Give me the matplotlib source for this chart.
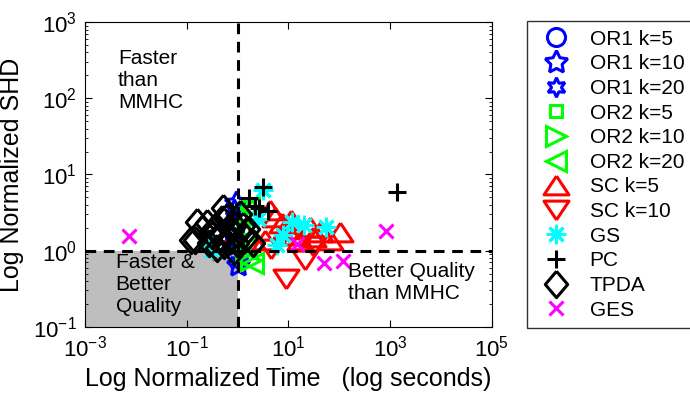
import numpy as np
import matplotlib
matplotlib.use("Agg")
import matplotlib.pyplot as plt
from matplotlib.ticker import NullLocator, LogFormatterMathtext

plt.rcParams['font.family'] = ['Liberation Sans', 'DejaVu Sans']
plt.rcParams['mathtext.fontset'] = 'custom'
plt.rcParams['mathtext.rm'] = 'Liberation Sans'

# data: normalized time, normalized SHD (both relative to MMHC)
or1_k5_t = [0.9, 0.7, 1.0]
or1_k5_s = [1.5, 2.0, 2.5]
or1_k10_t = [1.0, 0.95, 0.9]
or1_k10_s = [0.65, 4.2, 1.2]
or1_k20_t = [1.05, 0.85]
or1_k20_s = [0.7, 3.5]
or2_k5_t = [1.6, 1.3]
or2_k5_s = [3.8, 2.0]
or2_k10_t = [1.8, 1.5]
or2_k10_s = [0.75, 1.0]
or2_k20_t = [2.0, 1.7, 1.4]
or2_k20_s = [0.68, 3.6, 1.1]
sc_k5_t = [4.3, 7.4, 26, 102, 13.5, 17, 3.5, 42, 65, 9, 30, 5.5, 11]
sc_k5_s = [3.4, 2.3, 2.05, 1.77, 1.6, 1.38, 1.38, 1.77, 1.38, 1.9, 1.5, 2.8, 2.5]
sc_k10_t = [8.9, 21, 4.5, 0.35, 30]
sc_k10_s = [0.42, 0.76, 1.05, 1.0, 1.15]
gs_t = [3.2, 12, 56, 5.9, 0.32, 0.25, 2.5, 8, 20]
gs_s = [6.3, 2.4, 2.05, 1.2, 1.02, 1.3, 2.6, 1.6, 2.2]
pc_t = [3.2, 1350, 1.7, 2.7, 4.0, 2.2]
pc_s = [6.9, 5.9, 4.9, 3.6, 3.3, 3.9]
tpda_t = [0.16, 0.25, 0.145, 0.62, 0.78, 0.45, 1.5, 2.0, 0.98, 0.32, 0.2,
          0.35, 0.55, 0.7, 0.9, 1.1, 0.5, 0.4, 1.3, 0.28, 0.85, 1.6, 0.12, 0.51]
tpda_s = [2.4, 2.3, 1.38, 2.76, 1.87, 1.52, 1.47, 1.26, 1.26, 1.6, 1.9,
          2.0, 1.2, 1.4, 2.2, 3.0, 2.6, 1.1, 2.1, 1.25, 1.0, 1.9, 1.4, 3.6]
ges_t = [0.0073, 15, 51, 117, 820]
ges_s = [1.55, 1.23, 0.68, 0.74, 1.8]

labels = ['OR1 k=5', 'OR1 k=10', 'OR1 k=20', 'OR2 k=5', 'OR2 k=10', 'OR2 k=20',
          'SC k=5', 'SC k=10', 'GS', 'PC', 'TPDA', 'GES']

# matlab-like marker shapes
diamond = [(0, 1), (0.85, 0), (0, -1), (-0.85, 0), (0, 1)]
tri_up = [(0, 0.75), (1, -0.75), (-1, -0.75), (0, 0.75)]
tri_down = [(0, -0.75), (1, 0.75), (-1, 0.75), (0, -0.75)]

series = [
    (or1_k5_t, or1_k5_s, 'o', 'blue', 13),
    (or1_k10_t, or1_k10_s, (5, 1, 0), 'blue', 17),
    (or1_k20_t, or1_k20_s, (6, 1, 0), 'blue', 14),
    (or2_k5_t, or2_k5_s, 's', 'lime', 9),
    (or2_k10_t, or2_k10_s, '>', 'lime', 14),
    (or2_k20_t, or2_k20_s, '<', 'lime', 14),
    (sc_k5_t, sc_k5_s, tri_up, 'red', 18),
    (sc_k10_t, sc_k10_s, tri_down, 'red', 18),
    (gs_t, gs_s, (8, 2, 0), 'cyan', 14),
    (pc_t, pc_s, '+', 'black', 13),
    (tpda_t, tpda_s, diamond, 'black', 19),
    (ges_t, ges_s, 'x', 'magenta', 10),
]

fig = plt.figure(figsize=(6.9, 4.03), dpi=100)
ax = fig.add_axes([0.123, 0.189, 0.590, 0.756])

ax.fill_between([1e-3, 1], [0.1, 0.1], [1, 1], color='#bebebe', lw=0, zorder=0)

handles = []
for (t, s, m, c, ms), lab in zip(series, labels):
    h, = ax.plot(t, s, ls='none', marker=m, ms=ms, mfc='none', mec=c, mew=2.2,
                 label=lab, zorder=2)
    handles.append(h)

ax.plot([1, 1], [0.1, 1e3], ls=(0, (3.5, 2.5)), color='black', lw=2.2, zorder=3)
ax.plot([1e-3, 1e5], [1, 1], ls=(0, (3.5, 2.5)), color='black', lw=2.2, zorder=3)

ax.set_xscale('log')
ax.set_yscale('log')
ax.set_xlim(1e-3, 1e5)
ax.set_ylim(1e-1, 1e3)
ax.set_xticks([1e-3, 1e-1, 1e1, 1e3, 1e5])
ax.xaxis.set_major_formatter(LogFormatterMathtext())
ax.xaxis.set_minor_locator(NullLocator())
ax.set_yticks([1e-1, 1e0, 1e1, 1e2, 1e3])
ax.tick_params(which='both', direction='in', top=True, right=True, labelsize=16)
ax.tick_params(which='major', length=5, pad=6)
ax.tick_params(which='minor', length=2.5)

ax.set_xlabel('Log Normalized Time   (log seconds)', fontsize=18, labelpad=4)
ax.set_ylabel('Log Normalized SHD', fontsize=18, labelpad=6)

ax.text(0.0045, 440, 'Faster\nthan\nMMHC', fontsize=15, va='top', ha='left')
ax.text(0.004, 0.93, 'Faster &\nBetter\nQuality', fontsize=15, va='top', ha='left')
ax.text(150, 0.72, 'Better Quality\nthan MMHC', fontsize=15, va='top', ha='left')

leg = fig.legend(handles=handles, loc='upper left', bbox_to_anchor=(0.764, 0.947),
                 borderaxespad=0, fontsize=15, frameon=True, fancybox=False,
                 edgecolor='black', handletextpad=0.6, labelspacing=0.27,
                 borderpad=0.4, handlelength=2.0)
leg.get_frame().set_linewidth(1.0)

fig.savefig('out.png', dpi=100)
